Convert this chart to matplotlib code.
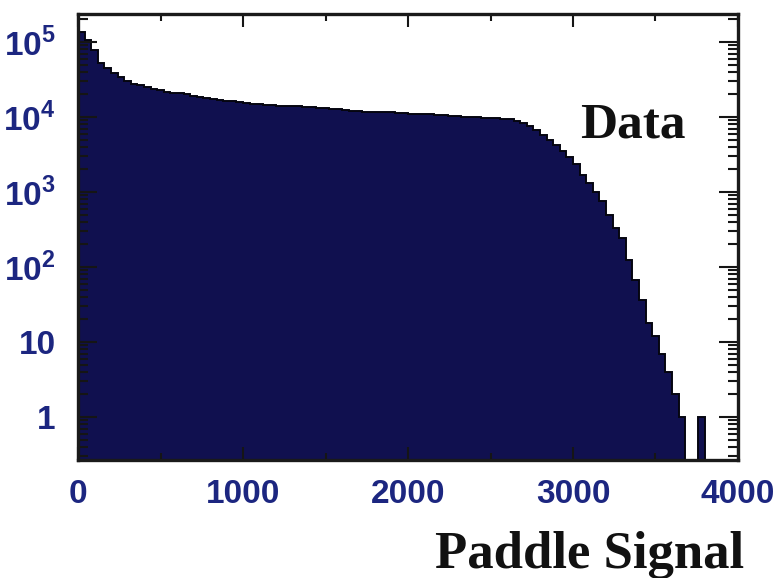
import numpy as np
import matplotlib.pyplot as plt
from matplotlib.ticker import FixedLocator, LogLocator, NullFormatter

plt.rcParams["mathtext.fontset"] = "custom"
plt.rcParams["mathtext.rm"] = "Liberation Sans:bold"
plt.rcParams["mathtext.bf"] = "Liberation Sans:bold"

# paddle signal histogram, 40-count wide bins from 0 to 4000
bin_edges = np.arange(0, 4001, 40)
counts = [
    136000, 106000, 78000, 52500, 45000, 38600, 34000, 30000, 27500, 26300,
    25000, 23600, 22900, 21500, 21000, 20600, 20000, 19000, 18500, 17900,
    17400, 16900, 16400, 16100, 15800, 15400, 15100, 14900, 14400, 14300,
    14100, 14000, 13900, 13800, 13600, 13500, 13300, 13000, 12800, 12600,
    12200, 12000, 11900, 11800, 11700, 11700, 11600, 11500, 11300, 11200,
    11100, 11000, 10900, 10800, 10600, 10500, 10300, 10200, 10100, 10000,
    9900, 9800, 9700, 9600, 9500, 9300, 8800, 8300, 7600, 6700,
    5750, 4900, 4200, 3500, 2900, 2360, 1690, 1320, 1000, 760,
    490, 330, 244, 124, 67, 36, 18, 12, 7, 4,
    2, 1, 0, 0, 1, 0, 0, 0, 0, 0,
]

x_ticks = [0, 1000, 2000, 3000, 4000]
y_ticks = [1, 10, 100, 1000, 10000, 100000]
y_tick_labels = ["1", "10", r"$10^{2}$", r"$10^{3}$", r"$10^{4}$", r"$10^{5}$"]

fill_color = "#10104f"
label_blue = "#1c2680"

fig = plt.figure(figsize=(7.77, 5.78), dpi=100, facecolor="white")
ax = fig.add_axes([0.1004, 0.2042, 0.8494, 0.7716])

counts_arr = np.array(counts, dtype=float)
ax.stairs(counts_arr, bin_edges, baseline=1e-3, fill=True, color=fill_color)
ax.stairs(counts_arr, bin_edges, baseline=1e-3, color="#050510", linewidth=1.4)

ax.set_yscale("log")
ax.set_xlim(0, 4000)
ax.set_ylim(0.267, 2.36e5)

ax.xaxis.set_major_locator(FixedLocator(x_ticks))
ax.xaxis.set_minor_locator(FixedLocator(np.arange(500, 4000, 1000)))
ax.set_xticklabels([str(t) for t in x_ticks])
ax.yaxis.set_major_locator(FixedLocator(y_ticks))
ax.yaxis.set_minor_locator(LogLocator(base=10, subs=np.arange(2, 10), numticks=20))
ax.yaxis.set_minor_formatter(NullFormatter())
ax.set_yticklabels(y_tick_labels)

ax.tick_params(axis="both", which="both", direction="in", top=True, right=True,
               colors="#151515", labelcolor=label_blue, width=1.5)
ax.tick_params(axis="x", which="major", length=9.5, pad=14, labelsize=24)
ax.tick_params(axis="x", which="minor", length=5)
ax.tick_params(axis="y", which="major", length=14, pad=16, labelsize=24)
ax.tick_params(axis="y", which="minor", length=7)
for lbl in ax.get_xticklabels() + ax.get_yticklabels():
    lbl.set_fontfamily("Liberation Sans")
    lbl.set_fontweight("bold")

for side in ["left", "right", "top", "bottom"]:
    ax.spines[side].set_linewidth(2.4)
    ax.spines[side].set_color("#1a1a1a")

ax.text(0.761, 0.724, "Data", transform=ax.transAxes, ha="left", va="baseline",
        family="Liberation Serif", fontweight="bold", fontsize=37, color="#111111")

ax.set_xlabel("Paddle Signal", family="Liberation Serif", fontweight="bold",
              fontsize=38, color="#111111", ha="right", va="baseline")
ax.xaxis.set_label_coords(1.009, -0.242)

fig.savefig("out.png", dpi=100, facecolor="white")
